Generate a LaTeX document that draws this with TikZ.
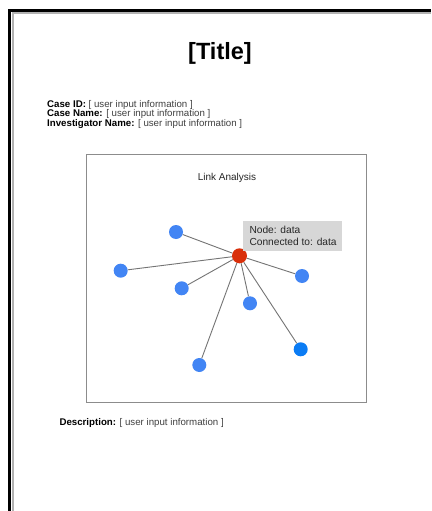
\documentclass[tikz,border=0pt]{standalone}
\usepackage{fontspec}
\setmainfont{Liberation Sans}
\begin{document}
\begin{tikzpicture}[x=1pt,y=-1pt,
  lbl/.style={anchor=west,inner sep=0pt,font=\fontsize{9.7}{11}\selectfont,text=black},
  blue node/.style={circle,fill=nblue,minimum size=14pt,inner sep=0pt},
  red node/.style={circle,fill=nred,minimum size=15pt,inner sep=0pt},
  link/.style={draw=linkgray,line width=0.9pt},
  tiptext/.style={anchor=west,inner sep=0pt,font=\fontsize{10.2}{12}\selectfont,text=black!85}]
\definecolor{nblue}{HTML}{4285F4}
\definecolor{nblue2}{HTML}{0B7CF4}
\definecolor{nred}{HTML}{D92F0A}
\definecolor{linkgray}{HTML}{747474}
\definecolor{tipgray}{HTML}{D7D7D7}
\definecolor{valgray}{HTML}{404040}
\useasboundingbox (0,0) rectangle (431,511);
\fill[white] (0,0) rectangle (431,511);
% page frame
\draw[line width=2pt,draw=black!30] (12.5,511) -- (12.5,13.5) -- (431,13.5);
\draw[line width=3pt,draw=black] (9.5,511) -- (9.5,11) -- (431,11);
% title
\node[font=\fontsize{23.5}{26}\selectfont\bfseries,inner sep=0pt] (title) at (220,53) {[Title]};
% header info
\node[lbl] (caseid) at (47,104.5) {\textbf{Case ID:} \textcolor{valgray}{[ user input information ]}};
\node[lbl] (casename) at (47,114.2) {\textbf{Case Name:} \textcolor{valgray}{[ user input information ]}};
\node[lbl] (invname) at (47,123.9) {\textbf{Investigator Name:} \textcolor{valgray}{[ user input information ]}};
% chart box
\draw[draw=black!45,line width=0.8pt] (86,154) rectangle (366,402);
\node[font=\fontsize{10}{12}\selectfont,text=black!85,inner sep=0pt] (charttitle) at (227,178) {Link Analysis};
% nodes
\node[red node] (c) at (239.5,255.8) {};
\node[blue node] (a) at (176,232) {};
\node[blue node] (b) at (120.7,270.7) {};
\node[blue node] (d) at (181.7,288.3) {};
\node[blue node] (e) at (250,303.3) {};
\node[blue node] (f) at (302,276) {};
\node[blue node,fill=nblue2] (g) at (300.7,349.3) {};
\node[blue node] (h) at (199.3,365) {};
\foreach \n in {a,b,d,e,f,g,h} {\draw[link] (c) -- (\n);}
% tooltip
\node[fill=tipgray,anchor=north west,minimum width=99pt,minimum height=30.3pt,inner sep=0pt] (tip) at (242.7,220.7) {};
\node[tiptext] (tip1) at (249.3,230.3) {Node: data};
\node[tiptext] (tip2) at (249.3,241.5) {Connected to: data};
% description
\node[lbl] (desc) at (59.3,422.7) {\textbf{Description:} \textcolor{valgray}{[ user input information ]}};
\end{tikzpicture}
\end{document}
